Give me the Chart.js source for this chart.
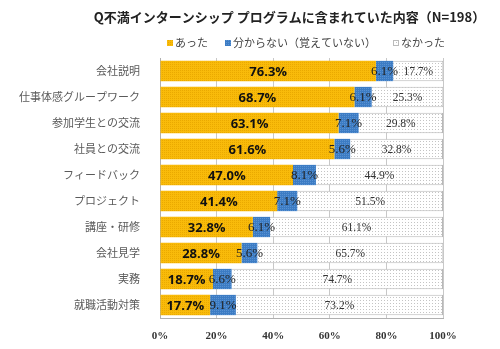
<!DOCTYPE html>
<html>
<head>
<meta charset="utf-8">
<script src="https://cdn.jsdelivr.net/npm/chart.js@4"></script>
<style>
  html, body { margin: 0; padding: 0; background: #fff; }
  #wrap { width: 500px; height: 349px; position: relative; }
</style>
</head>
<body>
<div id="wrap"><canvas id="internChart"></canvas></div>
<script>
const titleText = 'Q不満インターンシップ プログラムに含まれていた内容（N=198）';
const seriesNames = ['あった', '分からない（覚えていない）', 'なかった'];
const categories = ['会社説明', '仕事体感グループワーク', '参加学生との交流', '社員との交流', 'フィードバック',
    'プロジェクト', '講座・研修', '会社見学', '実務', '就職活動対策'];
const atta = [76.3, 68.7, 63.1, 61.6, 47.0, 41.4, 32.8, 28.8, 18.7, 17.7];
const wakaranai = [6.1, 6.1, 7.1, 5.6, 8.1, 7.1, 6.1, 5.6, 6.6, 9.1];
const nakatta = [17.7, 25.3, 29.8, 32.8, 44.9, 51.5, 61.1, 65.7, 74.7, 73.2];
const xTicks = [0, 20, 40, 60, 80, 100];

const JP = '"Noto Sans CJK JP", "Noto Sans", sans-serif';
const SERIF = '"Liberation Serif", "DejaVu Serif", serif';

// small dotted textures, like the printed fills
function dotPattern(base, dot, size) {
    const c = document.createElement('canvas');
    c.width = size; c.height = size;
    const g = c.getContext('2d');
    g.fillStyle = base;
    g.fillRect(0, 0, size, size);
    g.fillStyle = dot;
    g.fillRect(0, 0, 1, 1);
    return g.createPattern(c, 'repeat');
}

const yellowFill = dotPattern('#f9bb0a', '#eaa900', 2);
const blueFill = dotPattern('#3c7cc4', '#5a92d2', 2);
const greyFill = dotPattern('#ffffff', '#c4c4c4', 3);

// title + legend drawn above the plot
const headerPlugin = {
    id: 'header',
    afterDraw(chart) {
        const ctx = chart.ctx;
        const area = chart.chartArea;
        const mid = (area.left + area.right) / 2;
        ctx.save();
        ctx.fillStyle = '#222';
        ctx.font = 'bold 13px ' + JP;
        ctx.textAlign = 'center';
        ctx.textBaseline = 'middle';
        ctx.fillText(titleText, mid - 12, 17);

        ctx.font = '11px ' + JP;
        ctx.textAlign = 'left';
        const fills = [yellowFill, blueFill, greyFill];
        const gap = 16;
        let total = 0;
        const widths = seriesNames.map(n => ctx.measureText(n).width + 9);
        widths.forEach(w => total += w);
        total += gap * (seriesNames.length - 1);
        let x = mid + 5 - total / 2;
        const y = 43;
        seriesNames.forEach((name, i) => {
            ctx.fillStyle = fills[i];
            ctx.fillRect(x, y - 3, 6, 6);
            if (i === 2) {
                ctx.strokeStyle = '#bbb';
                ctx.lineWidth = 1;
                ctx.strokeRect(x + 0.5, y - 2.5, 5, 5);
            }
            ctx.fillStyle = '#444';
            ctx.fillText(name, x + 8, y);
            x += widths[i] + gap;
        });
        ctx.restore();
    }
};

// value labels in the middle of each segment
const valueLabels = {
    id: 'valueLabels',
    afterDatasetsDraw(chart) {
        const ctx = chart.ctx;
        ctx.save();
        ctx.textAlign = 'center';
        ctx.textBaseline = 'middle';
        chart.data.datasets.forEach((ds, di) => {
            const meta = chart.getDatasetMeta(di);
            meta.data.forEach((bar, i) => {
                const cx = (bar.x + bar.base) / 2;
                const text = ds.data[i].toFixed(1) + '%';
                if (di === 0) {
                    ctx.font = 'bold 13px "Open Sans", "Noto Sans", sans-serif';
                    ctx.fillStyle = '#111';
                } else if (di === 1) {
                    ctx.font = '13px ' + SERIF;
                    ctx.fillStyle = '#222';
                } else {
                    ctx.font = '11.5px ' + SERIF;
                    ctx.fillStyle = '#333';
                }
                ctx.fillText(text, cx, bar.y + 1);
            });
        });
        ctx.restore();
    }
};

new Chart(document.getElementById('internChart'), {
    type: 'bar',
    data: {
        labels: categories,
        datasets: [
            { label: seriesNames[0], data: atta, backgroundColor: yellowFill, borderWidth: 0 },
            { label: seriesNames[1], data: wakaranai, backgroundColor: blueFill, borderWidth: 0 },
            { label: seriesNames[2], data: nakatta, backgroundColor: greyFill, borderColor: '#b8b8b8', borderWidth: 1 }
        ]
    },
    options: {
        indexAxis: 'y',
        responsive: true,
        maintainAspectRatio: false,
        animation: false,
        layout: { padding: { top: 58, right: 57, left: 0, bottom: 0 } },
        datasets: { bar: { categoryPercentage: 0.78, barPercentage: 1 } },
        scales: {
            x: {
                stacked: true,
                min: 0,
                max: 100,
                afterBuildTicks(scale) { scale.ticks = xTicks.map(v => ({ value: v })); },
                afterFit(scale) { scale.height = 31; },
                grid: { color: '#c8c8c8', drawTicks: false },
                border: { color: '#b0b0b0' },
                ticks: {
                    padding: 12,
                    color: '#333',
                    font: { family: SERIF, size: 11, weight: 'bold' },
                    callback: v => v + '%'
                }
            },
            y: {
                stacked: true,
                afterFit(scale) { scale.width = 160; },
                grid: { display: false },
                border: { color: '#b0b0b0' },
                ticks: {
                    padding: 12,
                    color: '#5a5a5a',
                    font: { family: JP, size: 11 }
                }
            }
        },
        plugins: {
            legend: { display: false },
            title: { display: false },
            tooltip: { enabled: false }
        }
    },
    plugins: [headerPlugin, valueLabels]
});
</script>
</body>
</html>
